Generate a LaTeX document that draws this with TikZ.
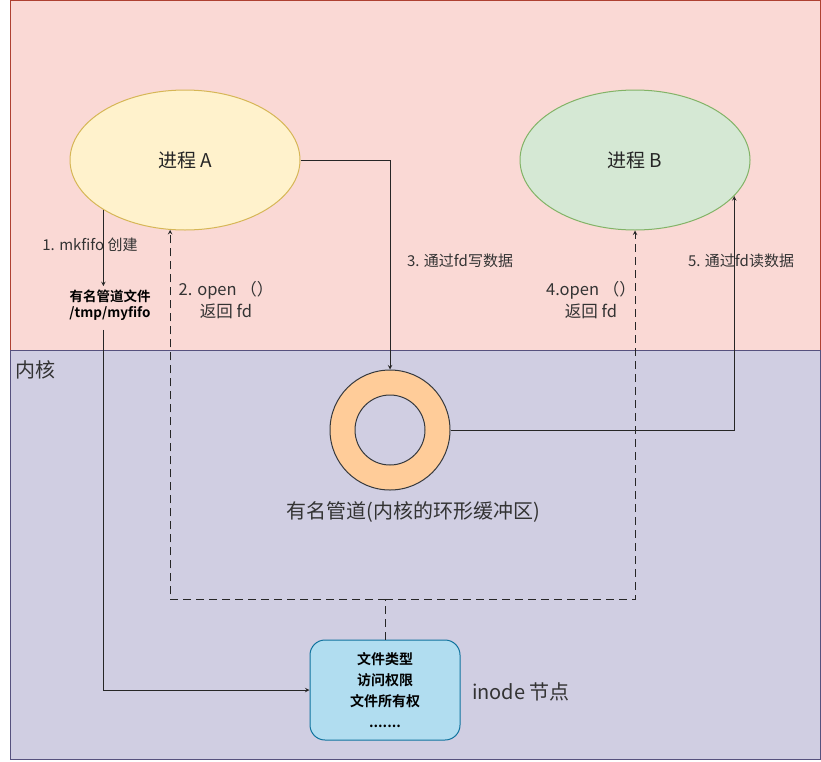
\documentclass[tikz,border=0pt]{standalone}
\usepackage{fontspec}
\setmainfont{Noto Sans CJK SC}[BoldFont={Noto Sans CJK SC Bold}]
\usepackage{tikz}
\usetikzlibrary{shapes}
\usetikzlibrary{arrows}
\definecolor{userbg}{HTML}{FAD9D5}
\definecolor{userline}{HTML}{AE4132}
\definecolor{kernelbg}{HTML}{D0CEE2}
\definecolor{kernelline}{HTML}{56517E}
\definecolor{procAfill}{HTML}{FFF2CC}
\definecolor{procAline}{HTML}{D6B656}
\definecolor{procBfill}{HTML}{D5E8D4}
\definecolor{procBline}{HTML}{82B366}
\definecolor{ringfill}{HTML}{FFCC99}
\definecolor{ringline}{HTML}{36393D}
\definecolor{inodefill}{HTML}{B1DDF0}
\definecolor{inodeline}{HTML}{10739E}
\definecolor{txtgray}{HTML}{333333}

\begin{document}
\begin{tikzpicture}[x=1pt,y=-1pt,>=stealth]
\tikzstyle{proc}=[ellipse,draw,line width=1pt,minimum width=230,minimum height=140,font=\fontsize{19}{22}\selectfont,text=black!85]
\tikzstyle{note}=[font=\fontsize{15}{22}\selectfont,text=txtgray,align=center]
\tikzstyle{bignote}=[font=\fontsize{16.5}{22}\selectfont,text=txtgray,align=center]
\tikzstyle{big}=[font=\fontsize{20}{24}\selectfont,text=txtgray]
\tikzstyle{link}=[->,line width=1pt,black!85]
\tikzstyle{back}=[link,dash pattern=on 8pt off 5pt]
\useasboundingbox (0,0) rectangle (821,761);
% user space and kernel
\filldraw[fill=userbg,draw=userline] (10,0.5) rectangle (820,350);
\filldraw[fill=kernelbg,draw=kernelline] (10,350) rectangle (820,759.5);
\node[big] (kernelLbl) at (36,370) {内核};
% processes
\node[proc,fill=procAfill,draw=procAline] (procA) at (185,160) {进程 A};
\node[proc,fill=procBfill,draw=procBline] (procB) at (635,160) {进程 B};
% ring buffer
\node[circle,line width=1pt,minimum size=120,fill=ringfill,draw=ringline] (pipe) at (390,430) {};
\node[circle,line width=1pt,minimum size=70,fill=kernelbg,draw=ringline] (pipeHole) at (pipe) {};
\node[big] (pipeLbl) at (413,512) {有名管道(内核的环形缓冲区)};
% inode
\node[rectangle,rounded corners=15,line width=1pt,minimum width=150,minimum height=100,fill=inodefill,draw=inodeline,font=\bfseries\fontsize{14}{21}\selectfont,align=center] (inode) at (385,690) {文件类型\\访问权限\\文件所有权\\.......};
\node[big] (inodeLbl) at (521,692) {inode 节点};
\node[font=\bfseries\fontsize{13.5}{16}\selectfont,align=center] (fifoFile) at (110,305) {有名管道文件\\/tmp/myfifo};
% labels
\node[note] (stepOne) at (90,245) {1. mkfifo 创建};
\node[bignote] (stepTwo) at (226,300) {2. open （）\\返回 fd};
\node[note] (stepThree) at (460,261) {3. 通过fd写数据};
\node[bignote] (stepFour) at (591,300) {4.open （）\\返回 fd};
\node[note] (stepFive) at (741,261) {5. 通过fd读数据};
% connectors
\coordinate (fileFoot) at ([yshift=-6pt]fifoFile.south);
\coordinate (fork) at ([yshift=40pt]inode.north);
\draw[link] (procA.south west) -- (procA.south west |- fifoFile.north);
\draw[link] (fileFoot -| procA.south west) |- (inode.west);
\draw[link] (procA.east) -| (pipe.north);
\draw[link] (pipe.east) -| (procB.-20.5);
\draw[back] (inode.north) -- (fork) -| (procA.-102);
\draw[back] (fork) -| (procB.south);
\end{tikzpicture}
\end{document}
